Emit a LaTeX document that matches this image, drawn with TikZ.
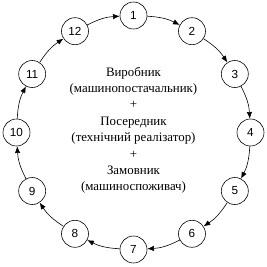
\documentclass[tikz,border=0pt]{standalone}
\usepackage{fontspec}
\setmainfont{Liberation Serif}
\setsansfont{Liberation Sans}
\usetikzlibrary{arrows.meta}

\begin{document}
\begin{tikzpicture}[
  num/.style={draw, circle, minimum size=0.81cm, inner sep=0pt, font=\sffamily\fontsize{10}{12}\selectfont, line width=0.5pt},
  >={Latex[length=2mm, width=1.6mm]},
  arrline/.style={->, line width=0.5pt, bend left=12},
]
\useasboundingbox (-4.005,-4.035) rectangle (4.005,3.975);

% ============ Stage circles (clockwise from top) ============
\foreach \i in {1,...,12}
  \node[num] (n\i) at ({90-30*(\i-1)}:3.51) {\i};

% ============ Participants (centre) ============
\node[align=center, font=\fontsize{11}{14}\selectfont] (actors) at (0,0.07) {Виробник\\(машинопостачальник)\\+\\Посередник\\(технічний реалізатор)\\+\\Замовник\\(машиноспоживач)};

% ===================== ARROWS =====================
\foreach \i [evaluate=\i as \j using {int(mod(\i,12)+1)}] in {1,...,12}
  \draw[arrline] (n\i) to (n\j);

\end{tikzpicture}
\end{document}
